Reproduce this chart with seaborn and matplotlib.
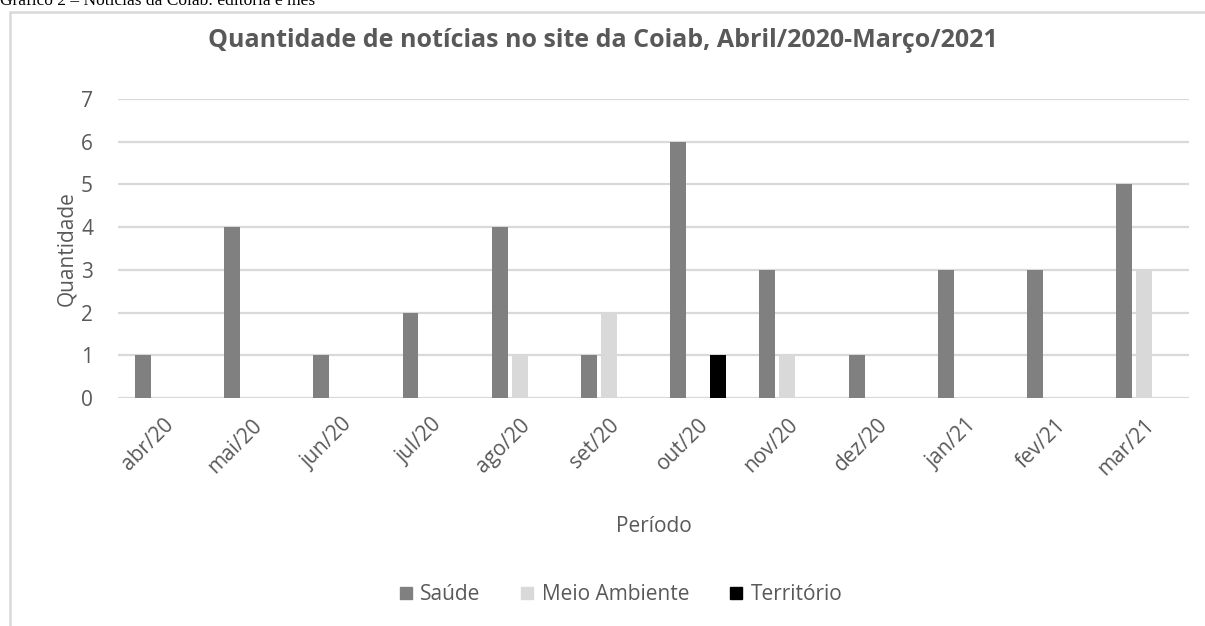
import matplotlib
matplotlib.use("Agg")
import matplotlib.pyplot as plt
import numpy as np
import pandas as pd
import seaborn as sns
from matplotlib.patches import Rectangle
from matplotlib.lines import Line2D

meses = ["abr/20", "mai/20", "jun/20", "jul/20", "ago/20", "set/20",
         "out/20", "nov/20", "dez/20", "jan/21", "fev/21", "mar/21"]
saude = [1, 4, 1, 2, 4, 1, 6, 3, 1, 3, 3, 5]
meio_ambiente = [0, 0, 0, 0, 1, 2, 0, 1, 0, 0, 0, 3]
territorio = [0, 0, 0, 0, 0, 0, 1, 0, 0, 0, 0, 0]
series = ["Saúde", "Meio Ambiente", "Território"]
cores = ["#808080", "#d9d9d9", "#000000"]

TXT = "#595959"
GRID = "#d9d9d9"

sns.set_style("white")
plt.rcParams["font.family"] = ["Open Sans", "DejaVu Sans"]

df = pd.DataFrame({
    "Período": meses * 3,
    "Quantidade": saude + meio_ambiente + territorio,
    "Editoria": [s for s in series for _ in meses],
})

fig = plt.figure(figsize=(12.05, 6.26), dpi=100)
ax = fig.add_axes([0.098, 0.3642, 0.8887, 0.4777])

sns.barplot(data=df, x="Período", y="Quantidade", hue="Editoria",
            hue_order=series, palette=cores, width=0.67, gap=0.2,
            errorbar=None, legend=False, ax=ax, zorder=3, linewidth=0)

ax.set_ylim(0, 7)
ax.set_xlim(-0.5, len(meses) - 0.5)
ax.set_yticks(range(0, 8))
ax.yaxis.grid(True, color=GRID, linewidth=1.6, zorder=0)
ax.set_axisbelow(True)
for s in ax.spines.values():
    s.set_visible(False)
ax.tick_params(axis="both", length=0, labelsize=15, labelcolor=TXT)
ax.tick_params(axis="y", pad=18)
ax.tick_params(axis="x", pad=12)
plt.setp(ax.get_xticklabels(), rotation=45, ha="right", rotation_mode="anchor")
ax.set_xlabel("Período", fontsize=15, color=TXT, labelpad=26)
ax.set_ylabel("Quantidade", fontsize=15, color=TXT, labelpad=3)

fig.text(0.5, 0.935, "Quantidade de notícias no site da Coiab, Abril/2020-Março/2021",
         ha="center", va="center", fontsize=18, fontweight="bold", color=TXT)

# caption cut off at the top, as in the source page
fig.text(0.0, 0.998, "Gráfico 2 – Notícias da Coiab: editoria e mês",
         ha="left", va="center", fontsize=12.5, family="Liberation Serif", color="black")

# chart frame
fig.patches.append(Rectangle((10 / 1205, -0.05), 1.2, 1 - 12 / 626 + 0.05,
                             transform=fig.transFigure, fill=False,
                             edgecolor=GRID, linewidth=1.8))

handles = [Line2D([], [], marker="s", linestyle="", markersize=8.5,
                  markerfacecolor=c, markeredgecolor=c) for c in cores]
fig.legend(handles, series, loc="center", bbox_to_anchor=(0.515, 0.05), ncol=3,
           frameon=False, fontsize=15, labelcolor=TXT, handlelength=0.7,
           handletextpad=0.35, columnspacing=1.9)

fig.savefig("out.png", dpi=100)
